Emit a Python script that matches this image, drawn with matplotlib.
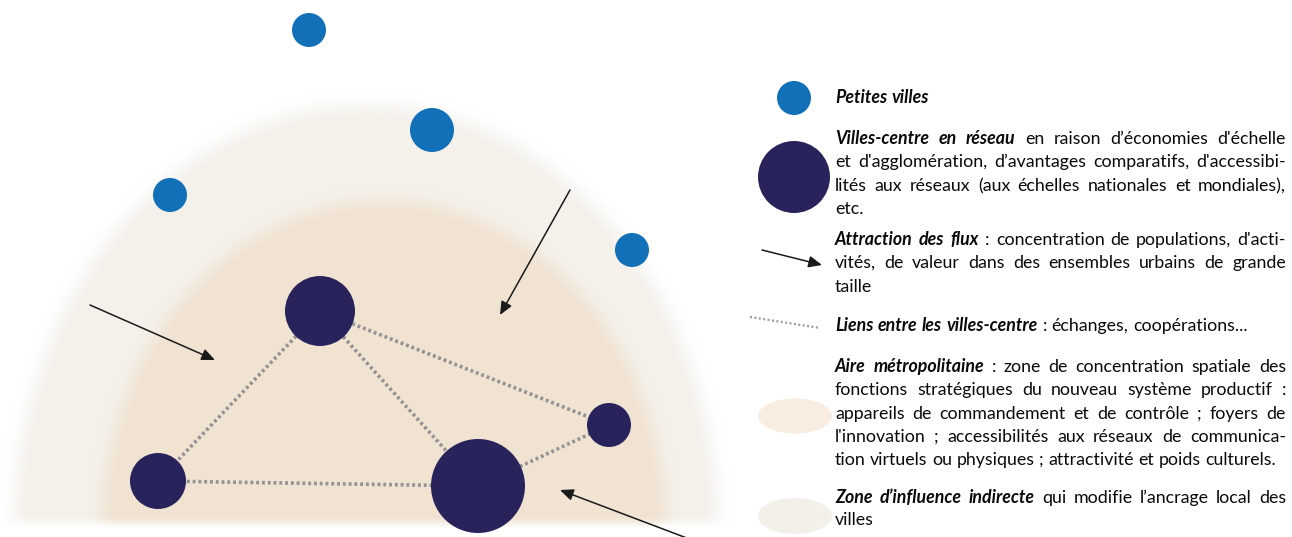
import numpy as np
import matplotlib.pyplot as plt
from matplotlib.patches import Circle, Ellipse, FancyArrowPatch

W, H = 1292, 537

# petites villes (pixel coords, y down)
petites_x = [309, 432, 170, 632]
petites_y = [30, 130, 195, 250]
petites_r = [17, 22, 17, 17]

# villes-centre en reseau
centres_x = [320, 158, 478, 609]
centres_y = [311, 481, 486, 425]
centres_r = [35, 28, 47, 22]

# liens entre villes-centre (indices)
liens = [(0, 1), (0, 2), (0, 3), (1, 2), (2, 3)]

# fleches d'attraction: depart -> arrivee
fleches = [((90, 305), (215, 360)),
           ((570, 190), (500, 315)),
           ((692, 540), (560, 490))]

# zones: cx, cy, rx, ry
zone_indirecte = (366, 530, 352, 425)
zone_metro = (384, 530, 283, 330)

BLUE = '#1170b8'
NAVY = '#29235c'
DOTS = '#939393'
C_OUT = np.array([244, 241, 235]) / 255
C_IN = np.array([241, 227, 210]) / 255

FS = 12.8
FONT = 'Lato'
X0, X1 = 835, 1286

# legende: (y centre des lignes, segments, justifie)
legende = [
    (98, [("Petites villes", True)], False),
    (139, [("Villes-centre en réseau", True), ("en raison d’économies d'échelle", False)], True),
    (162, [("et d'agglomération, d’avantages comparatifs, d'accessibi-", False)], True),
    (186, [("lités aux réseaux (aux échelles nationales et mondiales),", False)], True),
    (209, [("etc.", False)], False),
    (240, [("Attraction des flux", True), (": concentration de populations, d'acti-", False)], True),
    (263, [("vités, de valeur dans des ensembles urbains de grande", False)], True),
    (287, [("taille", False)], False),
    (326, [("Liens entre les villes-centre", True), (": échanges, coopérations...", False)], False),
    (367, [("Aire métropolitaine", True), (": zone de concentration spatiale des", False)], True),
    (390, [("fonctions stratégiques du nouveau système productif :", False)], True),
    (414, [("appareils de commandement et de contrôle ; foyers de", False)], True),
    (437, [("l'innovation ; accessibilités aux réseaux de communica-", False)], True),
    (460, [("tion virtuels ou physiques ; attractivité et poids culturels.", False)], False),
    (498, [("Zone  d’influence indirecte", True), ("qui modifie l’ancrage local des", False)], True),
    (520, [("villes", False)], False),
]

fig = plt.figure(figsize=(W / 100, H / 100), dpi=100)
ax = fig.add_axes([0, 0, 1, 1])
ax.set_xlim(0, W)
ax.set_ylim(H, 0)
ax.axis('off')


def zone_alpha(X, Y, zone, fade=24.0):
    cx, cy, rx, ry = zone
    u = (X - cx) / rx
    v = (Y - cy) / ry
    d = np.sqrt(u ** 2 + v ** 2) + 1e-9
    g = np.sqrt((u / rx) ** 2 + (v / ry) ** 2) / d
    sd = (d - 1) / g
    a = np.clip(0.5 - sd / fade, 0, 1)
    a = a * a * (3 - 2 * a)
    b = np.clip(0.5 - (Y - 522) / 12.0, 0, 1)
    return a * b


X, Y = np.meshgrid(np.arange(W) + 0.5, np.arange(H) + 0.5)
img = np.ones((H, W, 3))
a_o = zone_alpha(X, Y, zone_indirecte, 32)[..., None]
img = img * (1 - a_o) + C_OUT * a_o
a_i = zone_alpha(X, Y, zone_metro, 30)[..., None]
img = img * (1 - a_i) + C_IN * a_i
ax.imshow(img, extent=(0, W, H, 0), interpolation='bilinear', zorder=0)

for i, j in liens:
    ax.plot([centres_x[i], centres_x[j]], [centres_y[i], centres_y[j]],
            color=DOTS, lw=2.6, linestyle=(0, (0.8, 0.8)), zorder=1,
            solid_capstyle='butt', dash_capstyle='butt')

for x, y, r in zip(petites_x, petites_y, petites_r):
    ax.add_patch(Circle((x, y), r, color=BLUE, zorder=2, lw=0))
for x, y, r in zip(centres_x, centres_y, centres_r):
    ax.add_patch(Circle((x, y), r, color=NAVY, zorder=2, lw=0))

for (a, b) in fleches:
    ax.add_patch(FancyArrowPatch(a, b, arrowstyle='-|>,head_length=8,head_width=3.5',
                                 mutation_scale=1, color='#1a1a1a', lw=1.1,
                                 shrinkA=0, shrinkB=0, zorder=3))

# symboles de la legende
ax.add_patch(Circle((794, 98), 17, color=BLUE, lw=0))
ax.add_patch(Circle((794, 177), 36, color=NAVY, lw=0))
ax.add_patch(FancyArrowPatch((762, 250), (822, 265), arrowstyle='-|>,head_length=8,head_width=3.5',
                             mutation_scale=1, color='#1a1a1a', lw=1.1, shrinkA=0, shrinkB=0))
ax.plot([750, 820], [317, 328], color='#9a9a9a', lw=1.6, linestyle=(0, (0.9, 1.1)))
ax.add_patch(Ellipse((795, 416), 74, 35, color='#f9ede1', lw=0))
ax.add_patch(Ellipse((795, 516), 74, 36, color='#f3f0ea', lw=0))

renderer = fig.canvas.get_renderer()


def txt(s, bold, y=0):
    return ax.text(0, y, s, fontsize=FS, family=FONT, color='#0a0a0a',
                   fontweight='bold' if bold else 'normal',
                   fontstyle='italic' if bold else 'normal',
                   ha='left', va='baseline')


t1, t2 = txt('a a', False), txt('aa', False)
space = t1.get_window_extent(renderer).width - t2.get_window_extent(renderer).width
t1.remove()
t2.remove()

for yc, segs, just in legende:
    words = [(w, b) for s, b in segs for w in s.split()]
    arts = [txt(w, b, yc + 5) for w, b in words]
    widths = [t.get_window_extent(renderer).width for t in arts]
    gap = (X1 - X0 - sum(widths)) / (len(arts) - 1) if just and len(arts) > 1 else space
    x = X0
    for t, w in zip(arts, widths):
        t.set_x(x)
        x += w + gap

fig.savefig('out.png', dpi=100, facecolor='white')
